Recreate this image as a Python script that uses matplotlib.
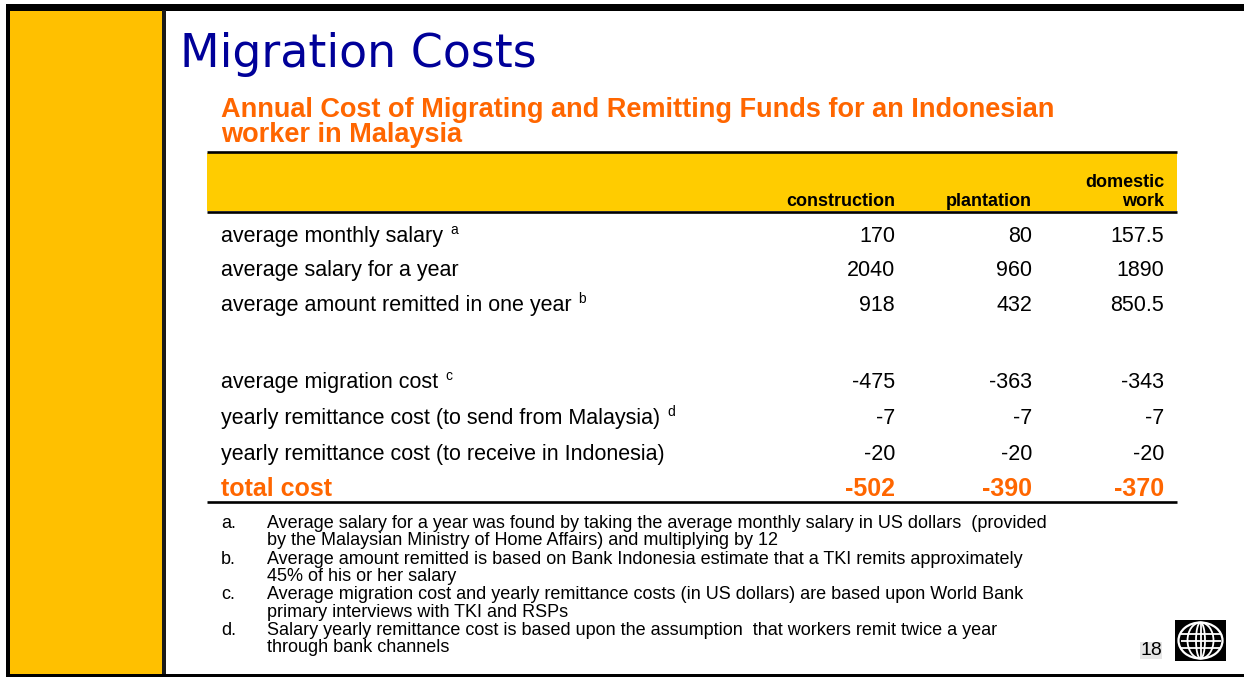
import matplotlib
matplotlib.use("Agg")
import matplotlib.pyplot as plt
from matplotlib.patches import Rectangle, Ellipse

# Daten der Tabelle
title = "Migration Costs"
subtitle = ["Annual Cost of Migrating and Remitting Funds for an Indonesian",
            "worker in Malaysia"]
columns = ["construction", "plantation", "domestic\nwork"]

row_labels = ["average monthly salary",
              "average salary for a year",
              "average amount remitted in one year",
              "",
              "average migration cost",
              "yearly remittance cost (to send from Malaysia)",
              "yearly remittance cost (to receive in Indonesia)"]
row_notes = ["a", "", "b", "", "c", "d", ""]

construction = [170, 2040, 918, None, -475, -7, -20]
plantation = [80, 960, 432, None, -363, -7, -20]
domestic_work = [157.5, 1890, 850.5, None, -343, -7, -20]

total_label = "total cost"
total_cost = [-502, -390, -370]

footnotes = [
    ("a.", ["Average salary for a year was found by taking the average monthly salary in US dollars  (provided",
            "by the Malaysian Ministry of Home Affairs) and multiplying by 12"]),
    ("b.", ["Average amount remitted is based on Bank Indonesia estimate that a TKI remits approximately",
            "45% of his or her salary"]),
    ("c.", ["Average migration cost and yearly remittance costs (in US dollars) are based upon World Bank",
            "primary interviews with TKI and RSPs"]),
    ("d.", ["Salary yearly remittance cost is based upon the assumption  that workers remit twice a year",
            "through bank channels"]),
]
page_number = "18"

# Farben
YELLOW_SIDE = "#FFC000"
YELLOW_HEAD = "#FFCC00"
ORANGE = "#FF6600"
BLUE = "#000099"

W, H = 1244, 677
fig = plt.figure(figsize=(W / 100, H / 100), dpi=100)
ax = fig.add_axes([0, 0, 1, 1])
ax.set_xlim(0, W)
ax.set_ylim(H, 0)
ax.axis("off")

ARIAL = "Liberation Sans"

# Rahmen und Seitenleiste
ax.add_patch(Rectangle((10, 10), 152, 664, color=YELLOW_SIDE, lw=0))
ax.add_patch(Rectangle((6, 4), W - 6, 7, color="black", lw=0))
ax.add_patch(Rectangle((6, 7), 4, H - 7, color="black", lw=0))
ax.add_patch(Rectangle((162, 10), 4, 664, color="#1a1a1a", lw=0))
ax.add_patch(Rectangle((6, 674), W - 6, 3, color="black", lw=0))

# Titel
ax.text(180, 67, title, color=BLUE, fontsize=33, family="DejaVu Sans",
        va="baseline", ha="left")
for i, line in enumerate(subtitle):
    ax.text(221, 117 + 25 * i, line, color=ORANGE, fontsize=19.5, family=ARIAL,
            weight="bold", va="baseline", ha="left")

# Tabellenkopf
x_left, x_right = 207, 1177
ax.add_patch(Rectangle((x_left, 153), x_right - x_left, 58, color=YELLOW_HEAD, lw=0))
ax.hlines([152, 212, 502], x_left, x_right, color="black", lw=1.9)

col_x = [895, 1032, 1164]
for x, name in zip(col_x, columns):
    ax.text(x, 206, name, fontsize=13, family=ARIAL, weight="bold",
            ha="right", va="baseline", linespacing=1.15)

# Zeilen
row_y = [242, 276, 311, 349, 388, 424, 460]
label_texts = []
for y, label in zip(row_y, row_labels):
    label_texts.append(ax.text(221, y, label, fontsize=15.5, family=ARIAL,
                               ha="left", va="baseline"))
for x, values in zip(col_x, [construction, plantation, domestic_work]):
    for y, v in zip(row_y, values):
        if v is None:
            continue
        ax.text(x, y, f"{v:g}", fontsize=15.5, family=ARIAL, ha="right", va="baseline")

ax.text(221, 496, total_label, fontsize=18, family=ARIAL, weight="bold",
        color=ORANGE, ha="left", va="baseline")
for x, v in zip(col_x, total_cost):
    ax.text(x, 496, f"{v:g}", fontsize=18, family=ARIAL, weight="bold",
            color=ORANGE, ha="right", va="baseline")

# Hochgestellte Fussnotenzeichen
fig.canvas.draw()
renderer = fig.canvas.get_renderer()
inv = ax.transData.inverted()
for t, note, y in zip(label_texts, row_notes, row_y):
    if not note:
        continue
    bb = t.get_window_extent(renderer)
    x_end = inv.transform((bb.x1, bb.y0))[0]
    ax.text(x_end + 7, y - 8, note, fontsize=10, family=ARIAL,
            ha="left", va="baseline")

# Fussnoten
y0 = 528
for i, (letter, lines) in enumerate(footnotes):
    yb = y0 + 35.7 * i
    ax.text(221, yb, letter, fontsize=13, family=ARIAL, va="baseline")
    for j, line in enumerate(lines):
        ax.text(267, yb + 17.3 * j, line, fontsize=13, family=ARIAL, va="baseline")

# Seitenzahl und Logo
ax.text(1162, 655, page_number, fontsize=14, family=ARIAL, ha="right", va="baseline",
        bbox=dict(facecolor="#e6e6e6", edgecolor="none", pad=0.3))
ax.add_patch(Rectangle((1175, 620), 51, 41, color="black", lw=0))
cx, cy = 1200.5, 640.5
ax.add_patch(Ellipse((cx, cy), 44, 36, fill=False, ec="white", lw=1.6))
ax.add_patch(Ellipse((cx, cy), 26, 36, fill=False, ec="white", lw=1.3))
ax.add_patch(Ellipse((cx, cy), 9, 36, fill=False, ec="white", lw=1.3))
ax.hlines([cy - 7, cy, cy + 7], cx - 20, cx + 20, color="white", lw=1.3)
ax.vlines(cx, cy - 18, cy + 18, color="white", lw=1.3)

fig.savefig("out.png", dpi=100)
